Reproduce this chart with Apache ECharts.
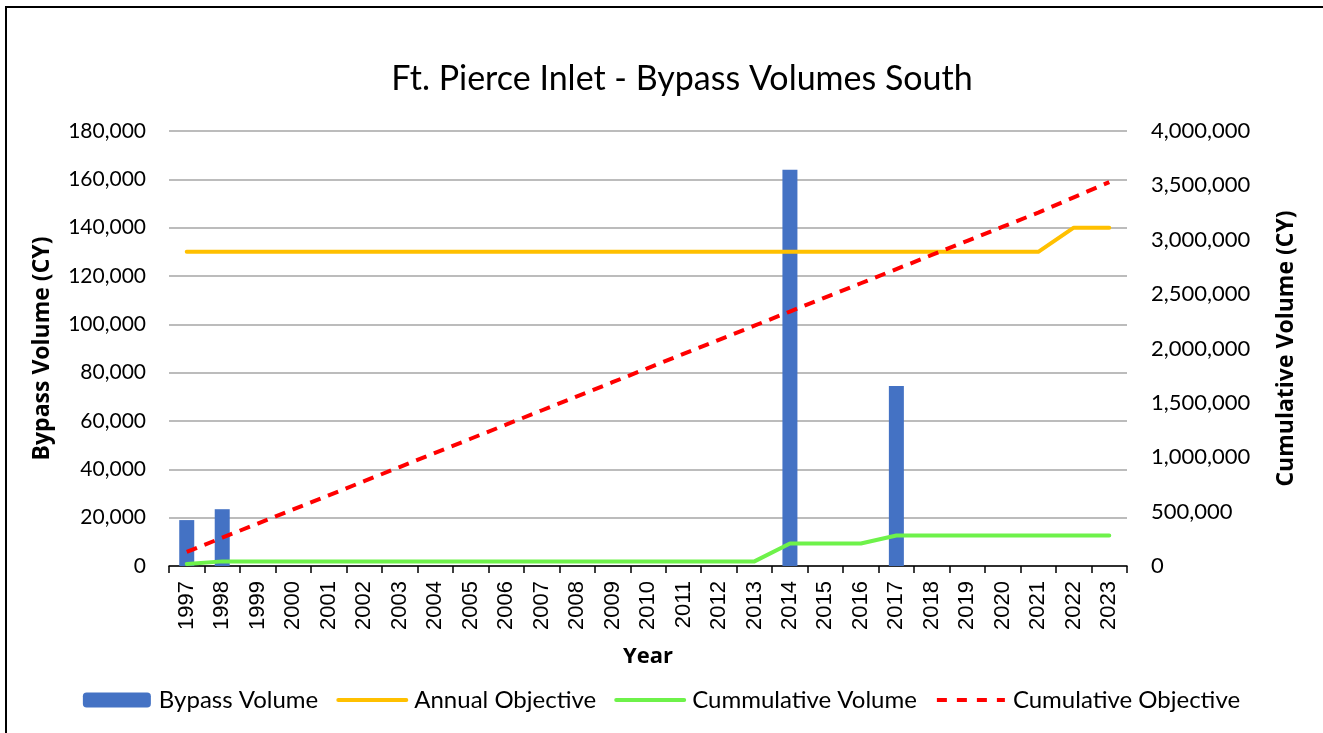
<!DOCTYPE html>
<html>
<head>
<meta charset="utf-8">
<script src="https://cdn.jsdelivr.net/npm/echarts@6/dist/echarts.min.js"></script>
<style>
  html, body { margin: 0; padding: 0; background: #fff; overflow: hidden; }
  #frame { position: absolute; left: 5px; top: 6px; width: 1400px; height: 800px; border: 2px solid #000; box-sizing: border-box; }
  #chart { position: absolute; left: 0; top: 0; width: 1323px; height: 733px; }
</style>
</head>
<body>
<div id="frame"></div>
<div id="chart"></div>
<script>
// ---- data ----
const years = ['1997','1998','1999','2000','2001','2002','2003','2004','2005','2006','2007','2008','2009',
  '2010','2011','2012','2013','2014','2015','2016','2017','2018','2019','2020','2021','2022','2023'];

const bypassVolume = [19000, 23500, 0, 0, 0, 0, 0, 0, 0, 0, 0, 0, 0,
  0, 0, 0, 0, 164000, 0, 0, 74500, 0, 0, 0, 0, 0, 0];

const annualObjective = [130000, 130000, 130000, 130000, 130000, 130000, 130000, 130000, 130000,
  130000, 130000, 130000, 130000, 130000, 130000, 130000, 130000, 130000, 130000, 130000, 130000,
  130000, 130000, 130000, 130000, 140000, 140000];

const cumulativeVolume = [19000, 42500, 42500, 42500, 42500, 42500, 42500, 42500, 42500, 42500,
  42500, 42500, 42500, 42500, 42500, 42500, 42500, 206500, 206500, 206500, 281000, 281000,
  281000, 281000, 281000, 281000, 281000];

const cumulativeObjective = [130000, 260000, 390000, 520000, 650000, 780000, 910000, 1040000,
  1170000, 1300000, 1430000, 1560000, 1690000, 1820000, 1950000, 2080000, 2210000, 2340000,
  2470000, 2600000, 2730000, 2860000, 2990000, 3120000, 3250000, 3390000, 3530000];

const seriesNames = ['Bypass Volume', 'Annual Objective', 'Cummulative Volume', 'Cumulative Objective'];

const fmt = v => v.toLocaleString('en-US');

const chart = echarts.init(document.getElementById('chart'), null, { renderer: 'canvas' });

const lineBase = (name, data, color, axis, extra = {}) => ({
  name,
  type: 'line',
  data,
  yAxisIndex: axis,
  showSymbol: false,
  symbol: 'none',
  smooth: false,
  lineStyle: Object.assign({ color, width: 4, cap: 'round', join: 'round' }, extra),
  itemStyle: { color },
  z: 3,
});

// legend entries: hide the line symbols, keep thick line icons
const legendLine = (name, extra = {}) => ({
  name,
  itemStyle: { opacity: 0 },
  lineStyle: Object.assign({ width: 4 }, extra),
});

chart.setOption({
  backgroundColor: 'transparent',
  animation: false,
  textStyle: { fontFamily: 'Lato' },

  title: {
    text: 'Ft. Pierce Inlet - Bypass Volumes South',
    left: 677,
    textAlign: 'center',
    top: 57,
    textStyle: { fontFamily: 'Lato', fontWeight: 'normal', fontSize: 34, color: '#000' },
  },

  grid: { left: 169, right: 196, top: 131, bottom: 167, containLabel: false },

  legend: {
    data: [
      { name: seriesNames[0] },
      legendLine(seriesNames[1]),
      legendLine(seriesNames[2]),
      legendLine(seriesNames[3], { type: [10, 10], cap: 'butt' }),
    ],
    left: 'center',
    top: 683,
    itemWidth: 68,
    itemHeight: 15,
    itemGap: 18,
    textStyle: { fontFamily: 'Lato', fontSize: 24, color: '#000', padding: [0, 0, 0, 3] },
  },

  xAxis: {
    type: 'category',
    data: years,
    boundaryGap: true,
    name: 'Year',
    nameLocation: 'middle',
    nameGap: 80,
    nameTextStyle: { fontFamily: 'Open Sans', fontWeight: 'bold', fontSize: 22, color: '#000' },
    axisLine: { show: true, lineStyle: { color: '#000', width: 1.5 } },
    axisTick: { show: true, length: 7, lineStyle: { color: '#000', width: 1.5 } },
    axisLabel: { rotate: 90, interval: 0, margin: 15, fontFamily: 'Liberation Sans', fontSize: 22, color: '#000' },
    splitLine: { show: false },
  },

  yAxis: [
    {
      type: 'value',
      min: 0, max: 180000, interval: 20000,
      name: 'Bypass Volume (CY)',
      nameLocation: 'middle',
      nameRotate: 90,
      nameGap: 115,
      nameTextStyle: { fontFamily: 'Open Sans', fontWeight: 'bold', fontSize: 23, color: '#000' },
      axisLine: { show: false },
      axisTick: { show: false },
      axisLabel: { margin: 23, fontFamily: 'Lato', fontSize: 21, color: '#000', formatter: fmt },
      splitLine: { lineStyle: { color: '#A6A6A6', width: 1.5 } },
    },
    {
      type: 'value',
      min: 0, max: 4000000, interval: 500000,
      position: 'right',
      name: 'Cumulative Volume (CY)',
      nameLocation: 'middle',
      nameRotate: 90,
      nameGap: 148,
      nameTextStyle: { fontFamily: 'Open Sans', fontWeight: 'bold', fontSize: 23, color: '#000' },
      axisLine: { show: false },
      axisTick: { show: false },
      axisLabel: { margin: 24, fontFamily: 'Lato', fontSize: 22, color: '#000', formatter: fmt },
      splitLine: { show: false },
    },
  ],

  series: [
    {
      name: seriesNames[0],
      type: 'bar',
      data: bypassVolume,
      yAxisIndex: 0,
      barWidth: 15,
      itemStyle: { color: '#4472C4' },
      z: 2,
    },
    lineBase(seriesNames[1], annualObjective, '#FFC000', 0),
    lineBase(seriesNames[2], cumulativeVolume, '#6EF24A', 1),
    lineBase(seriesNames[3], cumulativeObjective, '#FF0000', 1, { type: [11, 8], cap: 'butt' }),
  ],
});
</script>
</body>
</html>
